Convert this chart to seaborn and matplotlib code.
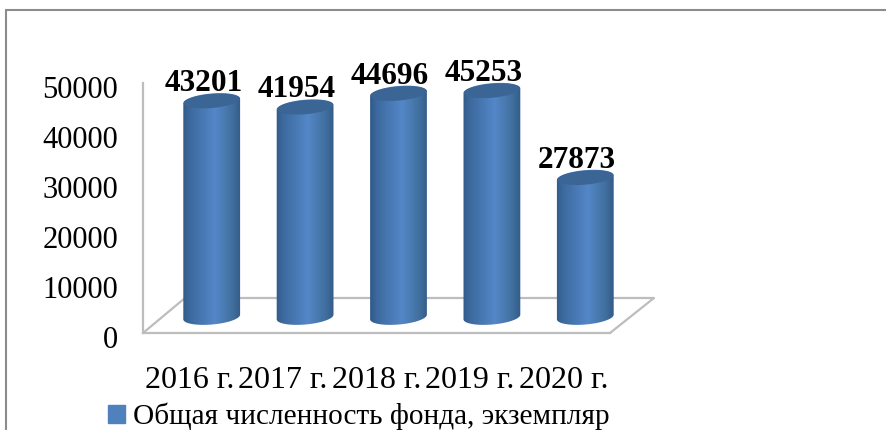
import numpy as np
import pandas as pd
import matplotlib
matplotlib.use("Agg")
import matplotlib.pyplot as plt
import seaborn as sns
from matplotlib.colors import LinearSegmentedColormap
from matplotlib.lines import Line2D
from matplotlib.patches import Ellipse, Patch, Polygon
from matplotlib.transforms import IdentityTransform, ScaledTranslation

years = ["2016 г.", "2017 г.", "2018 г.", "2019 г.", "2020 г."]
values = [43201, 41954, 44696, 45253, 27873]
y_ticks = [0, 10000, 20000, 30000, 40000, 50000]
series_name = "Общая численность фонда, экземпляр"

W, H = 887, 430
GRAY = "#bdbdbd"
BLUE = "#4f81bd"

sns.set_theme(style="white")
plt.rcParams["font.family"] = ["Liberation Serif", "DejaVu Serif"]

fig = plt.figure(figsize=(W / 100, H / 100), dpi=100, facecolor="white")


def px_axes(left, right, top, bottom):
    return fig.add_axes([left / W, 1 - bottom / H, (right - left) / W, (bottom - top) / H])


# front plane carries the axis labels, bars sit half way into the floor
ax = px_axes(143, 610, 83, 333)
ax.set_xlim(-0.5, 4.5)
ax.set_ylim(0, 50000)
ax.set_xticks(range(len(years)), years)
ax.set_yticks(y_ticks)
ax.tick_params(axis="x", length=0, pad=23.5, labelsize=23, labelcolor="black")
ax.tick_params(axis="y", length=0, pad=18, labelsize=22, labelcolor="black")
# y labels sit a little below their level in the reference
down = ScaledTranslation(0, -4 / 100, fig.dpi_scale_trans)
for label in ax.get_yticklabels():
    label.set_transform(label.get_transform() + down)
for side in ["top", "right"]:
    ax.spines[side].set_visible(False)
for side in ["left", "bottom"]:
    ax.spines[side].set_color(GRAY)
    ax.spines[side].set_linewidth(1.6)

# floor outline
ax.plot([1, 1 + 44 / 467, 42 / 467, 0], [0, 35 / 250, 35 / 250, 0], color=GRAY, lw=1.6,
        transform=ax.transAxes, clip_on=False)

ax_bars = px_axes(165, 632, 67, 317)
ax_bars.patch.set_alpha(0)
df = pd.DataFrame({"year": years, "value": values})
sns.barplot(data=df, x="year", y="value", color="#3f6fa8", width=0.6, saturation=1, ax=ax_bars)
ax_bars.set_xlim(-0.5, 4.5)
ax_bars.set_ylim(0, 50000)
ax_bars.axis("off")

shade = LinearSegmentedColormap.from_list(
    "cyl", [(0, "#325a88"), (0.12, "#3c6a9f"), (0.55, "#5487c8"), (0.85, "#41709f"), (1, "#335c8a")])
gradient = np.linspace(0, 1, 128).reshape(1, -1)
tilt = np.deg2rad(5)
cap_w, cap_h = 57, 15


def rim(cx, cy, t):
    a, b = cap_w / 2, cap_h / 2
    return np.column_stack([cx + a * np.cos(t) * np.cos(tilt) - b * np.sin(t) * np.sin(tilt),
                            cy + a * np.cos(t) * np.sin(tilt) + b * np.sin(t) * np.cos(tilt)])


for bar, value in zip(ax_bars.patches, values):
    mid = bar.get_x() + bar.get_width() / 2
    cx, y0 = ax_bars.transData.transform((mid, 0))
    _, y1 = ax_bars.transData.transform((mid, value))
    outline = np.vstack([rim(cx, y0, np.linspace(np.pi, 2 * np.pi, 40)),
                         rim(cx, y1, np.linspace(0, np.pi, 40))])
    body = Polygon(outline, closed=True, transform=IdentityTransform())
    im = ax_bars.imshow(gradient, cmap=shade, aspect="auto", zorder=3,
                        extent=[bar.get_x() - 0.01, bar.get_x() + bar.get_width() + 0.01, -2500, value + 2500])
    im.set_clip_box(fig.bbox)
    im.set_clip_path(body)
    ax_bars.add_patch(Ellipse((cx, y1), cap_w - 1, cap_h - 1, angle=5, facecolor="#3a6594",
                              edgecolor="none", transform=IdentityTransform(), zorder=4, clip_on=False))
    bar.set_visible(False)
    ax_bars.annotate(f"{value}", (mid, value), xytext=(-6, 12.5), textcoords="offset points",
                     ha="center", va="center", fontsize=22.5, fontweight="bold", color="black",
                     annotation_clip=False, zorder=5)

ax_bars.set_xlim(-0.5, 4.5)
ax_bars.set_ylim(0, 50000)

fig.legend(handles=[Patch(color=BLUE, label=series_name)], loc="lower left",
           bbox_to_anchor=(102 / W, -6 / H), frameon=False, fontsize=21.1, labelcolor="black",
           handlelength=0.6, handleheight=0.6, handletextpad=0.25, borderpad=0.2, borderaxespad=0)

# outer chart frame, cut off by the page on two sides
frame = dict(color="#8c8c8c", lw=1.5, transform=fig.transFigure)
fig.add_artist(Line2D([6 / W, 6 / W], [0, 1 - 10 / H], **frame))
fig.add_artist(Line2D([6 / W, 1], [1 - 10 / H, 1 - 10 / H], **frame))

fig.savefig("out.png", dpi=100)
